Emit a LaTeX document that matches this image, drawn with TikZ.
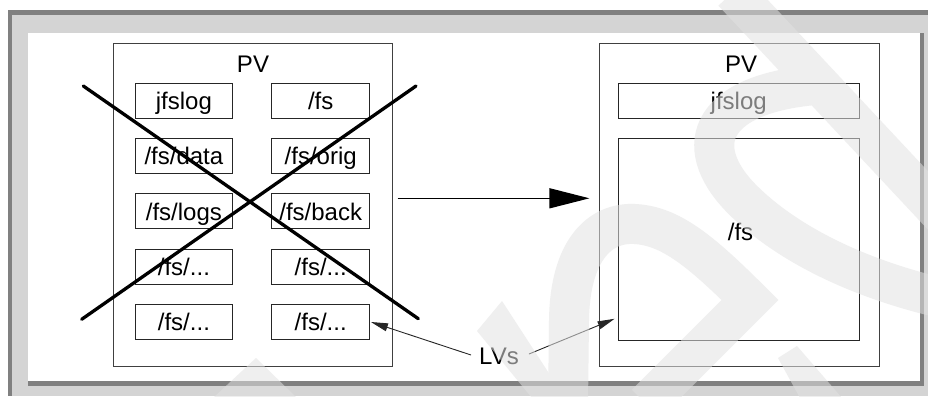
\documentclass[tikz,border=0pt]{standalone}
\usepackage{fontspec}
\setmainfont{Liberation Sans}
\usetikzlibrary{arrows.meta}

\definecolor{framelight}{gray}{0.83}
\definecolor{framedark}{gray}{0.50}
\definecolor{wm}{gray}{0.886}

\begin{document}
\begin{tikzpicture}[x=1pt,y=-1pt,
  font=\fontsize{24}{28}\selectfont,
  pvbox/.style={draw=black!75, line width=1pt, minimum width=279pt,
    minimum height=322pt, inner sep=0pt},
  lvbox/.style={draw=black!85, line width=1pt, minimum width=97.5pt,
    minimum height=35pt, inner sep=0pt, text height=17.2pt, text depth=0pt},
  lbl/.style={inner sep=0pt, text height=17.2pt, text depth=0pt},
  crossline/.style={line width=3.3pt, line cap=round, black},
  bigarrow/.style={line width=1.3pt, black, -{Triangle[length=40pt,width=20pt]}},
  thinarrow/.style={line width=0.9pt, black!85, -{Triangle[length=17pt,width=8pt]}},
  wmband/.style={draw=wm, line width=40pt},
  wmpatch/.style={fill=wm},
]
\useasboundingbox (0,0) rectangle (928,396);

% bevelled frame
\fill[white] (0,0) rectangle (928,396);
\fill[framelight] (8,10) rectangle (928,396);
\fill[framedark] (8,10) rectangle (928,15);
\fill[framedark] (8,10) rectangle (12,396);
\fill[white] (28,33) rectangle (920,381);
\fill[framedark] (28,381) rectangle (924,386);
\fill[framedark] (920,33) rectangle (924,386);

% left physical volume with its logical volumes
\node[pvbox] (pvL) at (252.5,205) {};
\node[lbl] (pvLtitle) at (253,64) {PV};
\node[lvbox] (a1) at (183.9,100.8) {jfslog};
\node[lvbox] (b1) at (320.7,100.8) {/fs};
\node[lvbox] (a2) at (183.9,156.1) {/fs/data};
\node[lvbox] (b2) at (320.7,156.1) {/fs/orig};
\node[lvbox] (a3) at (183.9,211.4) {/fs/logs};
\node[lvbox] (b3) at (320.7,211.4) {/fs/back};
\node[lvbox] (a4) at (183.9,266.7) {/fs/...};
\node[lvbox] (b4) at (320.7,266.7) {/fs/...};
\node[lvbox] (a5) at (183.9,322.0) {/fs/...};
\node[lvbox] (b5) at (320.7,322.0) {/fs/...};

% crossed out
\coordinate (xa) at (83.3,86);
\coordinate (xb) at (418.3,318.7);
\coordinate (xc) at (81.7,319.3);
\coordinate (xd) at (416,86);
\draw[crossline] (xa) -- (xb);
\draw[crossline] (xc) -- (xd);

% right physical volume
\node[pvbox, minimum width=279.3pt] (pvR) at (739.6,205) {};
\node[lbl] (pvRtitle) at (741,64) {PV};
\node[lvbox, minimum width=240.7pt] (logR) at (738.7,100.8) {jfslog};
\node[draw=black!85, line width=1pt, minimum width=240.7pt,
  minimum height=201.6pt, inner sep=0pt] (fsR) at (738.7,239.5) {};
\node[lbl] (fsRtitle) at (740.5,231.5) {/fs};

% migration arrow
\draw[bigarrow] ([xshift=5pt,yshift=6.7pt]pvL.east) -- ([xshift=-10pt,yshift=6.7pt]pvR.west);

% LVs callout
\node[lbl] (lvs) at (499,356) {LVs};
\coordinate (tipL) at ([xshift=1pt]b5.east);
\coordinate (tipR) at ([xshift=-3.3pt,yshift=22pt]fsR.south west);
\draw[thinarrow] ([xshift=-8pt,yshift=1pt]lvs.west) -- (tipL);
\draw[thinarrow] ([xshift=10pt,yshift=2pt]lvs.east) -- (tipR);

% light logo watermark laid over everything
\begin{scope}[transparency group, opacity=0.55]
  \draw[wmband] (733,-8) -- (965,240);
  \draw[wmband] (815,85) .. controls (705,95) and (690,150) .. (746,203)
    .. controls (790,245) and (860,280) .. (950,300);
  \draw[wmband, line join=miter] (568,405) -- (569,320)
    .. controls (570,250) and (600,222) .. (635,224)
    .. controls (670,226) and (700,250) .. (750,300) -- (646,404);
  \fill[wmpatch] (502,301) -- (565,398) -- (532,398) -- (477,331) -- cycle;
  \fill[wmpatch] (256,358) -- (297,398) -- (213,398) -- cycle;
  \fill[wmpatch] (797,346) -- (842,398) -- (800,398) -- (778,358) -- cycle;
\end{scope}
\end{tikzpicture}
\end{document}
